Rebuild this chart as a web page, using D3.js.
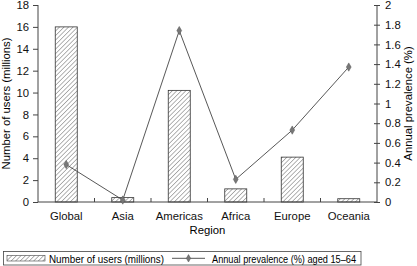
<!DOCTYPE html>
<html>
<head>
<meta charset="utf-8">
<script src="https://cdn.jsdelivr.net/npm/d3@7"></script>
<style>
  body { margin: 0; background: #fff; }
  text { font-family: "Liberation Sans", Arial, sans-serif; }
  .leg { font-family: "Liberation Sans Narrow", "Arial Narrow", "Liberation Sans", sans-serif; }
</style>
</head>
<body>
<div id="chart"></div>
<script>
var regions = ["Global", "Asia", "Americas", "Africa", "Europe", "Oceania"];
var users = [16, 0.4, 10.2, 1.2, 4.1, 0.3];
var prevalence = [0.38, 0.02, 1.74, 0.23, 0.73, 1.37];
var leftTicks = [0, 2, 4, 6, 8, 10, 12, 14, 16, 18];
var rightTicks = [0, 0.2, 0.4, 0.6, 0.8, 1, 1.2, 1.4, 1.6, 1.8, 2];

var width = 417, height = 266;
var margin = {top: 5, right: 40, bottom: 64, left: 38};

var svg = d3.select("#chart")
  .append("svg")
    .attr("width", width)
    .attr("height", height);

var defs = svg.append("defs");
var pat = defs.append("pattern")
    .attr("id", "hatch")
    .attr("patternUnits", "userSpaceOnUse")
    .attr("width", 3.2)
    .attr("height", 3.2)
    .attr("patternTransform", "rotate(45)");
pat.append("line")
    .attr("x1", 0).attr("y1", 0).attr("x2", 0).attr("y2", 3.2)
    .attr("stroke", "#444").attr("stroke-width", 0.8);

var x = d3.scaleBand()
  .domain(regions)
  .range([margin.left, width - margin.right]);

var y = d3.scaleLinear()
  .domain([0, 18])
  .range([height - margin.bottom, margin.top]);

var y2 = d3.scaleLinear()
  .domain([0, 2])
  .range([height - margin.bottom, margin.top]);

var axisColor = "#444";

// bars
var barW = 22;
svg.selectAll(".bar")
  .data(regions)
  .enter().append("rect")
    .attr("x", function(d) { return x(d) + x.bandwidth() / 2 - barW / 2; })
    .attr("y", function(d, i) { return y(users[i]); })
    .attr("width", barW)
    .attr("height", function(d, i) { return y(0) - y(users[i]); })
    .attr("fill", "url(#hatch)")
    .attr("stroke", "#333")
    .attr("stroke-width", 0.8);

// left axis
var gl = svg.append("g")
  .attr("transform", "translate(" + margin.left + ",0)")
  .call(d3.axisLeft(y).tickValues(leftTicks).tickSize(5).tickPadding(4));

// right axis
var gr = svg.append("g")
  .attr("transform", "translate(" + (width - margin.right) + ",0)")
  .call(d3.axisRight(y2).tickValues(rightTicks).tickSize(3).tickPadding(5)
        .tickFormat(function(d) { return d3.format("")(+d.toFixed(1)); }));
gr.selectAll(".tick line").attr("x1", -3);

// bottom axis
var gb = svg.append("g")
  .attr("transform", "translate(0," + y(0) + ")")
  .call(d3.axisBottom(x).tickSize(0).tickPadding(10));
gb.selectAll(".sep")
  .data(regions.slice(1))
  .enter().append("line")
    .attr("x1", function(d) { return x(d); })
    .attr("x2", function(d) { return x(d); })
    .attr("y1", -4).attr("y2", 0)
    .attr("stroke", axisColor);

[gl, gr, gb].forEach(function(g) {
  g.select(".domain").attr("stroke", axisColor);
  g.selectAll(".tick line").attr("stroke", axisColor);
  g.selectAll("text").attr("font-size", 11.3).attr("fill", "#111")
    .attr("font-family", "'Liberation Sans', Arial, sans-serif");
});
gl.select(".domain").attr("d", "M0," + y(18) + "V" + y(0));
gr.select(".domain").attr("d", "M0," + y2(2) + "V" + y2(0));
gb.select(".domain").attr("d", "M" + margin.left + ",0H" + (width - margin.right));

// line
var line = d3.line()
  .x(function(d, i) { return x(regions[i]) + x.bandwidth() / 2; })
  .y(function(d) { return y2(d); });

svg.append("path")
  .datum(prevalence)
  .attr("fill", "none")
  .attr("stroke", "#444")
  .attr("stroke-width", 0.9)
  .attr("d", line);

svg.selectAll(".pt")
  .data(prevalence)
  .enter().append("path")
    .attr("d", d3.symbol().type(d3.symbolDiamond).size(20))
    .attr("transform", function(d, i) {
      return "translate(" + (x(regions[i]) + x.bandwidth() / 2) + "," + y2(d) + ")";
    })
    .attr("fill", "#777")
    .attr("stroke", "#555")
    .attr("stroke-width", 0.5);

// axis titles
svg.append("text")
  .attr("transform", "translate(10," + (y(9)) + ") rotate(-90)")
  .attr("text-anchor", "middle")
  .attr("font-size", 11.3)
  .text("Number of users (millions)");

svg.append("text")
  .attr("transform", "translate(412," + (y(9)) + ") rotate(-90)")
  .attr("text-anchor", "middle")
  .attr("font-size", 11.3)
  .text("Annual prevalence (%)");

svg.append("text")
  .attr("x", (margin.left + width - margin.right) / 2)
  .attr("y", 234)
  .attr("text-anchor", "middle")
  .attr("font-size", 11.3)
  .text("Region");

// legend
var lg = svg.append("g");
lg.append("rect")
  .attr("x", 3.5).attr("y", 251.5).attr("width", 357.5).attr("height", 13.5)
  .attr("fill", "#fff").attr("stroke", "#444").attr("stroke-width", 0.8);
lg.append("rect")
  .attr("x", 7).attr("y", 255.5).attr("width", 38).attr("height", 5.5)
  .attr("fill", "url(#hatch)").attr("stroke", "#444").attr("stroke-width", 0.6);
lg.append("text")
  .attr("class", "leg")
  .attr("x", 49).attr("y", 262.5)
  .attr("font-size", 11.5)
  .attr("textLength", 115)
  .attr("lengthAdjust", "spacingAndGlyphs")
  .text("Number of users (millions)");
lg.append("line")
  .attr("x1", 172).attr("x2", 205).attr("y1", 258.3).attr("y2", 258.3)
  .attr("stroke", "#444").attr("stroke-width", 0.9);
lg.append("path")
  .attr("d", d3.symbol().type(d3.symbolDiamond).size(16))
  .attr("transform", "translate(188.5,258.3)")
  .attr("fill", "#777").attr("stroke", "#555").attr("stroke-width", 0.5);
lg.append("text")
  .attr("class", "leg")
  .attr("x", 212).attr("y", 262.5)
  .attr("font-size", 11.5)
  .attr("textLength", 144)
  .attr("lengthAdjust", "spacingAndGlyphs")
  .text("Annual prevalence (%) aged 15\u201364");
</script>
</body>
</html>
